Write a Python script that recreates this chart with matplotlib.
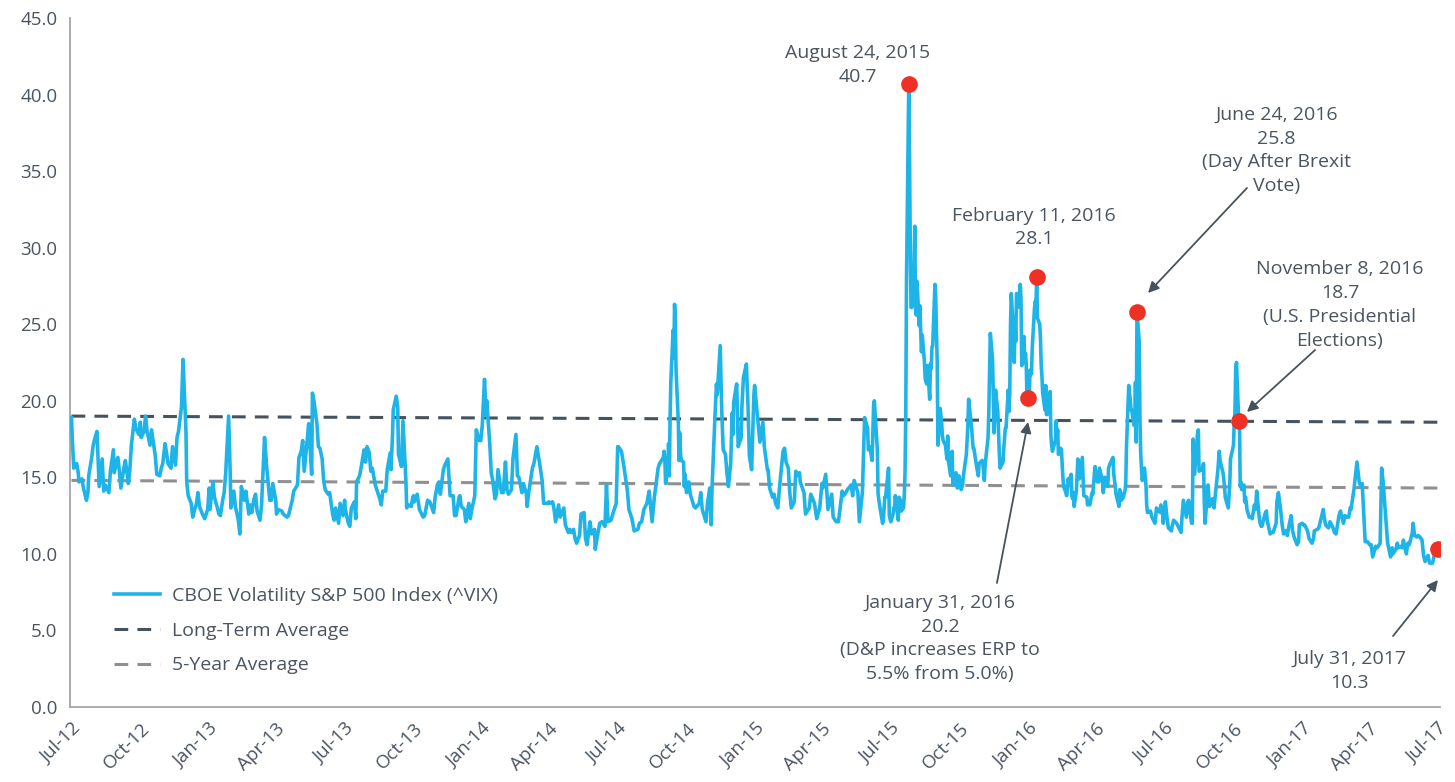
import numpy as np
import pandas as pd
import matplotlib
matplotlib.use('Agg')
import matplotlib.pyplot as plt
import matplotlib.dates as mdates

plt.rcParams['font.family'] = ['Open Sans', 'DejaVu Sans']

# VIX closes, one list per month (spread over that month's business days)
first_day = '2012-07-31'
first_value = 18.9

vix_2012 = [  # Aug .. Dec
    [17.6, 15.6, 15.9, 15.3, 14.7, 14.9, 14.3, 13.5, 14.0, 15.1, 16.3, 17.1, 17.5],
    [18.0, 15.6, 14.4, 16.2, 14.1, 14.5, 14.2, 14.0, 15.4, 16.8, 15.3, 15.7],
    [16.3, 15.4, 14.3, 15.6, 16.1, 14.6, 15.5, 17.1, 18.8, 18.2, 17.8, 18.6],
    [17.6, 18.0, 19.0, 18.0, 17.1, 18.1, 16.4, 15.2, 15.1, 15.6, 15.9],
    [17.2, 16.6, 15.9, 15.6, 17.0, 15.8, 17.6, 18.0, 19.6, 22.7, 18.0],
]
vix_2013 = [
    [14.7, 13.8, 13.3, 12.4, 12.6, 13.3, 14.0, 13.1, 12.6, 12.5, 12.3, 12.9, 14.3],
    [12.9, 14.7, 13.7, 13.0, 12.6, 12.5, 13.5, 14.0, 15.2, 19.0, 15.5],
    [13.0, 14.1, 13.1, 12.2, 11.3, 14.4, 13.5, 14.1, 12.6, 13.2, 12.7],
    [13.6, 13.9, 12.8, 12.2, 13.2, 17.6, 15.6, 13.5, 13.5, 14.6, 13.5],
    [12.6, 12.9, 12.8, 12.6, 12.4, 12.5, 13.5, 14.1, 14.5, 16.3],
    [16.7, 17.4, 15.4, 17.4, 18.5, 15.2, 20.5, 20.0, 18.5, 17.0, 16.9],
    [16.2, 14.8, 14.2, 13.9, 14.0, 12.6, 12.2, 13.0, 12.0, 13.3, 12.5, 13.5],
    [12.9, 12.0, 11.8, 13.0, 13.4, 12.3, 14.7, 15.1, 15.6, 16.8, 16.0, 17.0],
    [16.6, 15.4, 15.6, 14.5, 14.2, 13.6, 13.2, 14.1, 14.1, 15.5, 16.6],
    [15.5, 17.7, 19.4, 20.3, 19.6, 16.5, 15.7, 18.7, 14.7, 13.0, 13.2, 13.1, 13.4, 13.8],
    [13.4, 13.9, 12.9, 12.4, 12.5, 13.5, 13.4, 12.7, 13.7],
    [14.5, 14.7, 13.9, 15.5, 15.8, 16.2, 13.8, 13.8, 12.5, 12.5, 13.7],
]
vix_2014 = [
    [13.8, 13.1, 12.9, 12.1, 13.3, 12.3, 12.9, 13.8, 18.1, 17.4, 17.4, 18.4],
    [21.4, 19.1, 20.0, 17.2, 15.3, 14.8, 13.6, 13.9, 15.5, 14.2, 14.0, 14.0],
    [16.0, 14.2, 13.9, 14.2, 16.2, 17.8, 15.1, 15.0, 14.0, 14.6, 13.9],
    [13.1, 14.0, 15.6, 15.9, 17.0, 16.1, 14.8, 13.3, 13.3, 13.4],
    [13.3, 13.4, 12.9, 12.1, 13.2, 12.4, 13.0, 11.9, 11.4, 11.6, 11.4],
    [11.6, 11.0, 10.7, 11.2, 12.6, 12.7, 11.0, 10.6, 12.1, 11.3, 11.6],
    [10.3, 10.9, 12.0, 12.1, 11.8, 14.5, 12.1, 12.2, 12.7, 13.3, 17.0],
    [17.0, 16.7, 15.8, 14.1, 12.9, 12.3, 11.5, 11.6, 12.0],
    [12.1, 12.9, 13.3, 14.1, 12.1, 13.7, 15.6, 15.9, 16.3],
    [16.7, 16.2, 14.6, 15.5, 17.2, 15.1, 18.8, 21.2, 24.6, 22.8, 26.3, 25.2,
     22.0, 18.6, 16.1, 17.9, 16.5, 16.1, 16.0, 14.4, 15.2, 14.5, 14.0],
    [14.7, 13.9, 13.1, 13.0, 13.3, 14.0, 12.9, 12.1, 13.3],
    [14.3, 11.9, 14.2, 19.0, 21.1, 20.4, 23.6, 19.4, 16.8, 16.5, 15.3, 14.4, 15.9, 19.2],
]
vix_2015 = [
    [17.8, 19.9, 21.1, 19.3, 17.0, 17.6, 19.6, 20.6, 21.5, 22.4, 21.0, 19.9,
     16.4, 15.5, 17.2, 20.4, 21.0],
    [19.4, 18.3, 17.3, 18.6, 17.0, 15.5, 15.5, 14.3, 13.7, 13.9, 13.3],
    [13.0, 14.2, 15.2, 16.7, 16.9, 16.0, 15.6, 14.0, 13.0, 13.4, 15.4, 15.1, 15.3],
    [14.7, 14.0, 12.6, 13.0, 13.9, 13.3, 12.3, 13.0, 14.6],
    [14.3, 15.2, 12.9, 13.9, 12.4, 12.1, 12.1, 14.1, 13.8],
    [14.0, 14.2, 14.5, 13.8, 14.8, 14.0, 12.1, 14.0, 18.9, 18.2],
    [16.8, 17.0, 16.1, 19.7, 20.0, 16.8, 13.9, 13.2, 12.0, 12.2, 13.7, 13.7, 15.6, 12.5, 12.1],
    [12.6, 13.0, 13.0, 13.8, 13.4, 12.2, 13.7, 13.6, 13.5, 12.8, 13.0, 13.8,
     15.3, 19.1, 28.0, 40.7, 36.0, 30.3, 26.1, 26.1, 28.4],
    [31.4, 26.1, 25.6, 27.8, 24.9, 26.2, 24.4, 23.2, 24.3, 22.5, 21.4, 21.1,
     22.3, 20.1, 22.4, 22.1, 23.5, 23.6, 27.6, 26.8, 24.5],
    [22.6, 17.1, 19.5, 18.5, 17.7, 17.4, 17.1, 16.2, 17.7, 16.1, 15.1, 16.7,
     14.5, 14.5, 15.3, 14.3, 14.6, 15.1],
    [14.2, 14.5, 15.1, 16.5, 18.4, 20.1, 18.2, 16.9, 16.9, 15.6, 15.1, 15.9, 16.1],
    [15.9, 14.8, 15.8, 17.6, 19.3, 24.4, 22.7, 17.9, 20.7, 19.3, 16.6, 15.6, 16.0, 16.9, 18.2],
]
vix_2016 = [
    [18.2, 20.7, 19.3, 20.6, 25.0, 27.0, 24.3, 22.5, 25.2, 23.9, 27.0, 27.0,
     26.1, 27.6, 26.7, 22.3, 24.2, 22.5, 23.1, 22.4, 20.2],
    [20.0, 22.0, 21.7, 21.8, 23.4, 26.0, 26.5, 26.3, 28.1, 25.4, 25.0, 24.1,
     22.3, 21.6, 20.5, 19.4, 21.0, 19.1, 19.1, 19.8, 20.6],
    [17.7, 17.1, 16.7, 16.9, 17.4, 18.7, 17.5, 18.1, 16.5, 16.9, 16.8, 15.0,
     14.4, 14.0, 13.8, 14.2, 14.9, 14.7, 15.2, 13.8, 13.6, 14.0],
    [13.1, 14.1, 16.2, 15.4, 14.9, 16.3, 14.9, 13.8, 13.7, 13.2, 13.3, 13.2, 14.0, 13.9, 15.2, 15.7],
    [14.7, 14.7, 15.6, 14.7, 14.0, 15.0, 14.4, 15.6, 15.9, 16.3, 15.2, 14.4, 13.9, 13.1],
    [14.2, 14.0, 13.5, 13.7, 14.0, 14.1, 14.6, 17.0, 21.0, 20.5, 20.1, 19.4,
     19.4, 18.4, 18.5, 21.2, 17.3, 25.8, 23.9, 18.8, 16.6, 15.6],
    [14.8, 15.6, 14.5, 13.2, 12.7, 12.8, 12.6, 12.4, 12.0, 12.4, 13.0, 12.9, 12.7, 13.2, 12.8, 12.0],
    [13.4, 12.4, 11.7, 11.5, 11.8, 12.2, 12.0, 11.8, 11.4, 12.3, 13.5, 12.4, 13.4],
    [13.5, 12.0, 12.0, 17.5, 15.2, 17.9, 18.1, 15.4, 15.5, 15.9, 13.3, 12.0, 14.5, 13.1, 13.3],
    [13.6, 13.0, 13.5, 15.4, 16.7, 16.1, 15.3, 14.4, 13.7, 13.0, 14.5, 16.2, 17.1],
    [18.6, 19.3, 22.1, 22.5, 18.7, 18.7, 14.4, 14.7, 14.2, 14.5, 13.4, 13.7,
     13.4, 12.9, 12.4, 12.4, 12.4, 12.4, 12.3, 13.2, 12.9, 13.3],
    [14.1, 12.1, 11.8, 11.8, 12.6, 12.8, 12.2, 11.3, 11.4, 11.4, 12.0, 13.4, 14.0],
]
vix_2017 = [  # Jan .. Jul
    [12.9, 11.9, 11.3, 11.5, 11.2, 11.8, 12.5, 11.5, 11.1, 10.6, 10.8, 11.9, 12.0],
    [11.9, 11.9, 11.5, 11.0, 10.7, 11.0, 11.5, 11.6, 11.7, 12.1, 12.9],
    [12.5, 11.9, 11.7, 12.1, 11.7, 11.4, 11.3, 12.5, 12.8, 12.0, 12.5, 12.4],
    [12.4, 13.0, 12.9, 14.2, 15.1, 16.0, 14.7, 14.4, 14.6, 10.8, 10.8, 10.8],
    [10.6, 10.6, 9.8, 10.5, 10.4, 10.7, 15.6, 14.7, 12.0, 10.7, 9.8, 10.4],
    [10.0, 10.3, 10.7, 10.4, 10.5, 10.4, 10.9, 10.0, 10.7, 10.6, 11.4, 12.0, 11.2],
    [11.1, 11.2, 11.1, 10.9, 9.9, 9.5, 9.9, 9.4, 9.4, 9.6, 10.1, 10.3],
]

avg_days = ['2012-07-31', '2017-07-31']
long_term_avg = [19.0, 18.6]
five_year_avg = [14.8, 14.3]

event_days = ['2015-08-24', '2016-01-31', '2016-02-11', '2016-06-24', '2016-11-08', '2017-07-31']
event_values = [40.7, 20.2, 28.1, 25.8, 18.7, 10.3]

# build the daily-ish series
dates = [pd.Timestamp(first_day)]
values = [first_value]
for year, first_month, months in [(2012, 8, vix_2012), (2013, 1, vix_2013), (2014, 1, vix_2014),
                                  (2015, 1, vix_2015), (2016, 1, vix_2016), (2017, 1, vix_2017)]:
    for i, vals in enumerate(months):
        start = pd.Timestamp(year, first_month + i, 1)
        bdays = pd.bdate_range(start, start + pd.offsets.MonthEnd(0))
        idx = np.linspace(0, len(bdays) - 1, len(vals)).round().astype(int)
        dates.extend(bdays[idx])
        values.extend(vals)

txt = '#4A5561'
fig = plt.figure(figsize=(14.55, 7.82), dpi=100)
ax = fig.add_axes([70 / 1455, 1 - 707 / 782, 1370 / 1455, 689 / 782])

ax.plot(dates, values, color='#1FB4E8', lw=2.6, solid_joinstyle='round',
        label='CBOE Volatility S&P 500 Index (^VIX)', zorder=3)
ax.plot(pd.to_datetime(avg_days), long_term_avg, color='#46535E', lw=2.2,
        dashes=(4.5, 3), label='Long-Term Average', zorder=2)
ax.plot(pd.to_datetime(avg_days), five_year_avg, color='#8E9093', lw=2.2,
        dashes=(4.5, 3), label='5-Year Average', zorder=2)
ax.plot(pd.to_datetime(event_days), event_values, 'o', color='#EE3124', ms=12,
        mec='none', zorder=5)

ax.set_ylim(0, 45)
ax.set_yticks(np.arange(0, 46, 5))
ax.yaxis.set_major_formatter(matplotlib.ticker.FormatStrFormatter('%.1f'))
ax.set_xlim(pd.Timestamp('2012-07-29'), pd.Timestamp('2017-08-03'))
ticks = [pd.Timestamp(2012, 7, 1) + pd.DateOffset(months=3 * i) + pd.offsets.MonthEnd(0)
         for i in range(21)]
ax.set_xticks(ticks)
ax.xaxis.set_major_formatter(mdates.DateFormatter('%b-%y'))
ax.tick_params(length=0, labelsize=13.5, labelcolor=txt)
ax.tick_params(axis='y', pad=9)
ax.tick_params(axis='x', pad=9)
for lab in ax.get_xticklabels():
    lab.set_rotation(45)
    lab.set_ha('right')
    lab.set_va('top')
    lab.set_rotation_mode('anchor')

for s in ['top', 'right']:
    ax.spines[s].set_visible(False)
for s in ['left', 'bottom']:
    ax.spines[s].set_color('#A6A6A6')
    ax.spines[s].set_linewidth(1.3)

leg = ax.legend(loc='lower left', bbox_to_anchor=(0.019, 0.022), frameon=False,
                fontsize=14, handlelength=2.4, handletextpad=0.6, labelspacing=0.85)
for t in leg.get_texts():
    t.set_color(txt)

notes = [
    (0.5748, 0.9318, 'August 24, 2015\n40.7'),
    (0.7036, 0.6959, 'February 11, 2016\n28.1'),
    (0.8807, 0.8077, 'June 24, 2016\n25.8\n(Day After Brexit\nVote)'),
    (0.9270, 0.5835, 'November 8, 2016\n18.7\n(U.S. Presidential\nElections)'),
    (0.6350, 0.0994, 'January 31, 2016\n20.2\n(D&P increases ERP to\n5.5% from 5.0%)'),
    (0.9340, 0.0523, 'July 31, 2017\n10.3'),
]
for x, y, s in notes:
    ax.text(x, y, s, transform=ax.transAxes, ha='center', va='center',
            fontsize=14, color=txt, linespacing=1.42)

arrows = [
    ((0.8591, 0.7533), (0.7869, 0.6009)),
    ((0.9088, 0.5181), (0.8591, 0.4282)),
    ((0.6766, 0.1800), (0.6993, 0.4136)),
    ((0.9657, 0.1030), (0.9985, 0.1843)),
]
for start, end in arrows:
    ax.annotate('', xy=end, xytext=start, xycoords='axes fraction',
                textcoords='axes fraction',
                arrowprops=dict(arrowstyle='-|>', color='#46535E', lw=1.3,
                                mutation_scale=16, shrinkA=0, shrinkB=0))

fig.savefig('out.png', dpi=100)
